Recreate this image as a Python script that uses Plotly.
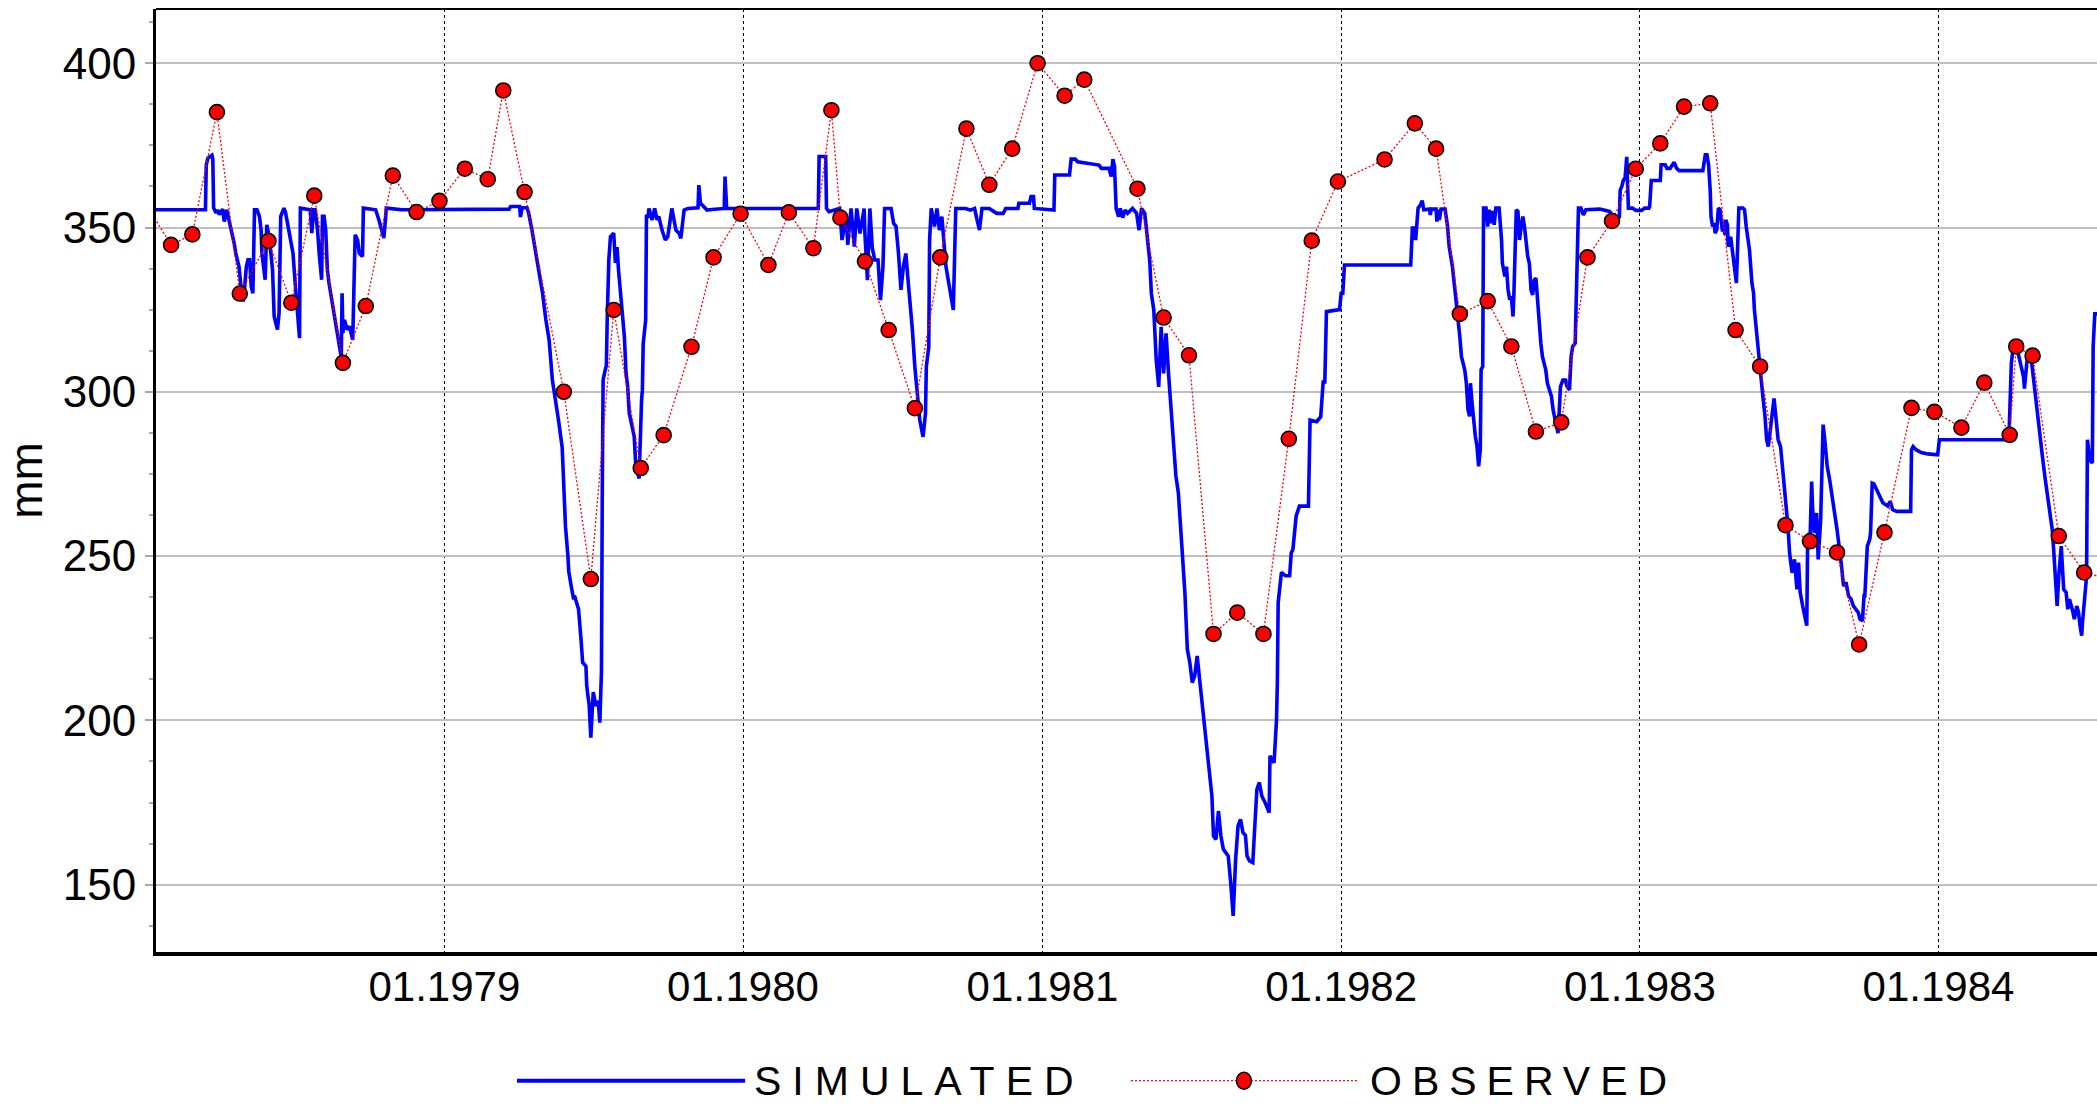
import pandas as pd
import plotly.graph_objects as go

# Simulated storage, one vertex per change of slope (day number counted from SIM_START)
SIM_START = "1978-01-01"
SIM_DAY = [
    0, 73, 74, 76, 81, 82, 83, 86, 88, 90, 94, 96, 99, 101, 104, 108, 110, 114, 116, 119,
    121, 123, 125, 127, 129, 131, 133, 136, 139, 141, 142, 146, 148, 151, 155, 157, 161, 163, 165, 169,
    171, 175, 180, 183, 186, 188, 189, 201, 203, 205, 207, 210, 212, 215, 216, 218, 220, 222, 224, 228,
    232, 236, 239, 240, 241, 243, 246, 249, 253, 256, 259, 261, 265, 266, 281, 285, 290, 291, 293, 294,
    313, 444, 446, 457, 458, 460, 466, 468, 472, 477, 481, 485, 489, 493, 497, 501, 505, 509, 512, 513,
    516, 517, 520, 523, 524, 529, 532, 534, 538, 539, 542, 544, 546, 547, 550, 553, 555, 557, 558, 559,
    561, 563, 564, 566, 568, 570, 572, 574, 576, 578, 581, 583, 585, 587, 589, 591, 593, 595, 597, 599,
    603, 606, 607, 608, 611, 612, 614, 615, 619, 622, 625, 627, 631, 635, 638, 643, 648, 652, 654, 658,
    663, 675, 676, 678, 686, 692, 707, 708, 710, 822, 823, 831, 832, 835, 848, 851, 856, 858, 862, 866,
    869, 873, 878, 879, 882, 885, 888, 891, 895, 898, 901, 903, 911, 914, 917, 920, 923, 926, 929, 932,
    935, 937, 940, 943, 946, 950, 953, 954, 957, 958, 960, 964, 967, 970, 973, 978, 983, 987, 990, 1002,
    1008, 1013, 1016, 1019, 1022, 1031, 1040, 1048, 1051, 1066, 1067, 1080, 1082, 1085, 1086, 1110, 1111, 1129, 1131, 1136,
    1139, 1151, 1165, 1168, 1177, 1180, 1182, 1184, 1186, 1189, 1191, 1194, 1197, 1200, 1206, 1211, 1214, 1217, 1221, 1227,
    1229, 1232, 1235, 1238, 1241, 1244, 1247, 1250, 1253, 1256, 1259, 1262, 1265, 1268, 1270, 1273, 1276, 1279, 1282, 1285,
    1288, 1291, 1294, 1297, 1300, 1303, 1305, 1308, 1311, 1314, 1317, 1323, 1326, 1329, 1332, 1335, 1338, 1341, 1344, 1346,
    1349, 1353, 1355, 1358, 1361, 1364, 1368, 1373, 1374, 1379, 1382, 1383, 1384, 1388, 1393, 1398, 1400, 1402, 1406, 1410,
    1421, 1423, 1431, 1436, 1439, 1441, 1443, 1459, 1461, 1463, 1465, 1546, 1548, 1550, 1552, 1553, 1555, 1558, 1560, 1562,
    1569, 1570, 1571, 1577, 1578, 1580, 1581, 1583, 1588, 1591, 1593, 1597, 1601, 1603, 1606, 1608, 1612, 1614, 1616, 1618,
    1619, 1621, 1623, 1625, 1627, 1629, 1631, 1632, 1634, 1635, 1638, 1640, 1642, 1644, 1646, 1648, 1650, 1654, 1657, 1658,
    1661, 1663, 1665, 1667, 1669, 1671, 1672, 1673, 1675, 1677, 1679, 1681, 1683, 1685, 1687, 1689, 1691, 1693, 1695, 1697,
    1699, 1700, 1702, 1703, 1705, 1707, 1709, 1711, 1713, 1715, 1718, 1720, 1722, 1724, 1726, 1728, 1729, 1732, 1735, 1737,
    1740, 1742, 1744, 1747, 1749, 1751, 1754, 1757, 1760, 1777, 1789, 1793, 1796, 1801, 1802, 1804, 1806, 1808, 1810, 1811,
    1812, 1817, 1821, 1828, 1832, 1837, 1838, 1840, 1851, 1852, 1857, 1859, 1863, 1865, 1868, 1871, 1874, 1903, 1904, 1906,
    1908, 1910, 1912, 1913, 1915, 1917, 1918, 1920, 1922, 1924, 1927, 1928, 1930, 1931, 1933, 1934, 1937, 1939, 1941, 1944,
    1945, 1947, 1952, 1954, 1956, 1960, 1963, 1965, 1966, 1969, 1971, 1973, 1974, 1976, 1979, 1981, 1983, 1986, 1990, 1992,
    1995, 1998, 2001, 2004, 2007, 2009, 2012, 2015, 2018, 2020, 2022, 2025, 2028, 2030, 2031, 2033, 2034, 2036, 2037, 2039,
    2042, 2044, 2047, 2049, 2050, 2052, 2055, 2058, 2061, 2064, 2067, 2069, 2072, 2075, 2078, 2081, 2084, 2087, 2090, 2093,
    2095, 2098, 2100, 2101, 2104, 2107, 2108, 2110, 2112, 2117, 2123, 2129, 2132, 2135, 2140, 2157, 2158, 2160, 2164, 2170,
    2178, 2190, 2192, 2277, 2279, 2280, 2283, 2287, 2289, 2292, 2295, 2296, 2299, 2300, 2305, 2308, 2311, 2315, 2318, 2321,
    2324, 2327, 2330, 2332, 2335, 2336, 2338, 2341, 2344, 2347, 2349, 2351, 2355, 2357, 2360, 2362, 2364, 2366, 2367, 2370,
    2372, 2373, 2376, 2379, 2380, 2382, 2387,
]
SIM_MM = [
    355.4, 355.4, 369.0, 371.1, 372.0, 371.0, 356.0, 354.4, 355.4, 353.9, 355.6, 351.8, 355.4, 353.4, 350.3, 345.3, 342.2, 338.1, 333.1, 327.5,
    332.0, 338.1, 340.2, 340.2, 332.0, 330.0, 355.4, 355.4, 353.4, 349.3, 342.2, 334.1, 350.8, 347.2, 337.1, 322.9, 318.9, 323.9, 353.4, 355.9,
    354.4, 349.3, 342.2, 332.0, 321.9, 316.3, 355.9, 355.4, 348.3, 355.4, 355.4, 349.3, 342.2, 334.1, 353.4, 353.4, 349.3, 337.1, 333.1, 327.0,
    319.9, 313.8, 310.5, 330.0, 317.9, 321.9, 318.9, 319.9, 315.8, 347.8, 346.2, 342.2, 341.2, 355.9, 355.4, 352.3, 347.8, 346.8, 352.3, 355.9,
    355.4, 355.6, 356.4, 356.4, 353.2, 356.0, 356.0, 354.4, 349.3, 342.2, 337.1, 330.0, 322.0, 315.8, 303.6, 296.0, 290.5, 283.0, 267.2, 259.1,
    250.0, 245.4, 240.9, 236.8, 238.0, 233.8, 224.7, 217.6, 216.5, 210.5, 204.4, 194.7, 204.4, 208.6, 204.4, 205.9, 199.3, 215.0, 270.0, 303.6,
    306.0, 308.0, 321.9, 340.2, 347.2, 347.8, 348.3, 339.2, 344.0, 336.6, 327.0, 321.9, 316.8, 305.7, 301.6, 293.5, 291.5, 288.4, 286.4, 277.2,
    273.6, 297.5, 300.5, 314.7, 321.8, 353.4, 353.4, 355.8, 352.3, 355.8, 352.3, 353.4, 349.2, 346.2, 347.2, 355.8, 349.2, 348.2, 346.7, 355.3,
    355.8, 356.0, 362.9, 357.4, 355.3, 355.5, 355.8, 365.5, 355.8, 355.8, 371.6, 371.6, 355.8, 354.8, 355.8, 346.2, 354.0, 344.7, 355.8, 344.2,
    355.8, 348.2, 355.8, 348.0, 334.0, 355.8, 343.7, 340.1, 340.1, 327.9, 338.1, 355.8, 355.8, 351.3, 350.3, 342.1, 331.0, 338.1, 342.1, 333.0,
    325.9, 318.8, 307.6, 299.5, 291.4, 286.3, 293.4, 307.6, 313.7, 346.2, 355.8, 350.3, 355.8, 349.2, 353.3, 338.1, 330.0, 324.9, 355.8, 355.8,
    355.3, 355.8, 352.3, 349.2, 355.8, 355.8, 354.3, 354.3, 355.8, 355.8, 357.4, 357.4, 359.4, 359.4, 355.8, 355.3, 366.0, 366.0, 370.8, 370.8,
    370.0, 369.5, 369.0, 368.0, 368.0, 365.5, 370.8, 368.5, 355.8, 353.3, 355.8, 353.0, 355.3, 354.3, 355.8, 354.3, 349.2, 355.8, 354.3, 340.1,
    330.0, 324.9, 309.6, 301.5, 319.8, 305.6, 317.8, 305.6, 295.4, 282.5, 274.4, 269.3, 259.1, 249.0, 238.9, 221.6, 217.6, 211.5, 213.5, 219.6,
    211.5, 205.4, 198.3, 191.2, 186.1, 177.0, 164.8, 163.8, 172.4, 164.8, 160.8, 158.7, 150.6, 140.5, 157.7, 167.9, 169.9, 165.8, 165.0, 158.7,
    157.2, 156.7, 165.8, 179.0, 181.1, 177.0, 175.0, 171.9, 189.2, 187.1, 200.3, 211.5, 235.8, 245.0, 244.0, 244.0, 251.0, 252.0, 262.2, 265.2,
    265.2, 291.4, 290.9, 292.4, 303.0, 303.0, 324.4, 325.0, 330.0, 330.0, 338.6, 338.6, 349.8, 349.8, 346.2, 349.8, 355.9, 356.9, 358.2, 355.4,
    355.6, 353.8, 355.6, 355.6, 351.8, 355.4, 352.3, 355.6, 355.6, 350.3, 344.2, 338.1, 329.0, 325.0, 316.8, 310.7, 306.7, 302.6, 294.5, 292.5,
    302.6, 296.5, 290.5, 286.4, 283.4, 277.3, 282.3, 306.7, 307.7, 355.9, 355.9, 350.3, 355.4, 351.3, 355.0, 350.8, 355.9, 355.9, 346.2, 339.2,
    335.1, 338.1, 331.0, 328.0, 329.0, 322.9, 329.0, 341.2, 355.4, 354.9, 346.2, 350.3, 353.3, 350.3, 345.2, 341.2, 339.1, 331.0, 329.5, 334.0,
    334.6, 331.0, 322.9, 319.9, 314.8, 310.7, 308.7, 306.7, 302.6, 300.6, 298.6, 294.5, 292.5, 290.5, 287.4, 296.5, 301.6, 303.6, 303.6, 301.6,
    300.6, 310.7, 313.8, 314.8, 331.0, 355.9, 355.9, 353.8, 355.4, 355.6, 354.9, 353.8, 352.8, 353.3, 361.4, 362.5, 364.5, 365.0, 371.5, 363.5,
    355.9, 355.9, 355.2, 355.2, 355.9, 355.9, 356.4, 364.3, 364.3, 369.1, 369.1, 368.0, 368.0, 368.8, 369.8, 368.0, 367.3, 367.3, 369.6, 372.1,
    372.1, 369.1, 361.4, 353.3, 350.3, 351.3, 348.3, 349.3, 355.9, 355.4, 348.8, 351.8, 347.8, 352.3, 350.8, 344.2, 347.2, 343.2, 337.1, 333.1,
    340.2, 355.9, 355.9, 355.4, 350.3, 343.2, 333.1, 330.0, 325.0, 316.8, 311.8, 307.7, 302.6, 299.5, 292.4, 285.4, 283.3, 289.4, 298.0, 293.0,
    285.4, 283.3, 275.3, 265.2, 259.1, 251.0, 244.9, 249.0, 239.9, 248.0, 238.9, 234.8, 230.8, 228.8, 253.0, 257.1, 255.0, 272.7, 265.2, 257.1,
    263.1, 249.0, 261.1, 289.4, 290.0, 285.4, 277.3, 273.2, 267.2, 263.1, 258.1, 253.0, 248.0, 240.9, 242.0, 237.9, 237.0, 234.8, 234.0, 232.8,
    230.8, 230.3, 237.9, 237.9, 253.0, 255.1, 257.1, 272.2, 272.0, 269.2, 266.2, 265.2, 266.7, 264.1, 263.6, 263.6, 282.3, 283.3, 282.3, 281.5,
    281.1, 280.8, 285.4, 285.4, 297.5, 308.6, 315.2, 313.6, 311.0, 308.1, 304.5, 301.0, 309.6, 311.6, 308.6, 301.5, 294.4, 287.4, 280.3, 274.2,
    268.2, 263.1, 258.1, 251.0, 240.9, 234.8, 243.9, 253.0, 239.9, 238.9, 233.8, 236.9, 233.3, 230.8, 234.8, 233.0, 228.8, 225.8, 229.8, 236.9,
    243.9, 285.4, 279.3, 278.3, 313.6, 323.7, 323.7,
]

# Observed storage, roughly monthly readings
OBS_DATE = [
    "1977-12-30", "1978-02-01", "1978-02-27", "1978-03-29", "1978-04-26", "1978-05-31", "1978-06-28",
    "1978-07-26", "1978-08-30", "1978-09-27", "1978-10-30", "1978-11-28", "1978-12-26", "1979-01-26",
    "1979-02-23", "1979-03-14", "1979-04-09", "1979-05-27", "1979-06-29", "1979-07-27", "1979-08-29",
    "1979-09-26", "1979-10-30", "1979-11-26", "1979-12-29", "1980-02-01", "1980-02-26", "1980-03-27",
    "1980-04-18", "1980-04-29", "1980-05-29", "1980-06-27", "1980-07-29", "1980-08-29", "1980-09-30",
    "1980-10-28", "1980-11-25", "1980-12-26", "1981-01-28", "1981-02-21", "1981-04-27", "1981-05-29",
    "1981-06-29", "1981-07-29", "1981-08-27", "1981-09-28", "1981-10-29", "1981-11-26", "1981-12-28",
    "1982-02-23", "1982-04-01", "1982-04-27", "1982-05-26", "1982-06-29", "1982-07-28", "1982-08-27",
    "1982-09-27", "1982-10-29", "1982-11-28", "1982-12-27", "1983-01-26", "1983-02-24", "1983-03-28",
    "1983-04-28", "1983-05-28", "1983-06-28", "1983-07-28", "1983-08-30", "1983-09-26", "1983-10-27",
    "1983-11-29", "1983-12-27", "1984-01-29", "1984-02-26", "1984-03-28", "1984-04-05", "1984-04-25",
    "1984-05-27", "1984-06-27", "1984-07-27",
]
OBS_MM = [
    358.0, 344.7, 347.9, 385.1, 329.9, 345.9, 327.1,
    359.7, 308.8, 326.1, 365.8, 354.7, 358.1, 367.9,
    364.7, 391.7, 360.8, 300.0, 243.0, 324.9, 276.8,
    286.8, 313.7, 340.9, 354.2, 338.6, 354.6, 343.7,
    385.7, 353.0, 339.7, 318.8, 295.0, 340.9, 380.1,
    363.0, 374.0, 400.0, 390.1, 395.0, 361.8, 322.6,
    311.1, 226.3, 232.8, 226.3, 285.7, 346.0, 364.0,
    370.7, 381.7, 374.0, 323.7, 327.6, 313.8, 287.9,
    290.7, 340.9, 352.0, 367.9, 375.6, 386.8, 387.8,
    318.8, 307.7, 259.4, 254.5, 251.1, 223.1, 257.2,
    295.1, 293.9, 289.1, 302.8, 286.9, 313.8, 311.0,
    256.1, 245.0, 243.0,
]

SERIES_NAMES = ["SIMULATED", "OBSERVED"]
Y_TICKS = [150, 200, 250, 300, 350, 400]

FONT = "Liberation Sans, Arial, sans-serif"
BLUE = "#0000FF"
RED = "#FF0000"

sim_dates = pd.Timestamp(SIM_START) + pd.to_timedelta(SIM_DAY, unit="D")
obs_dates = pd.to_datetime(OBS_DATE)

fig = go.Figure()
fig.add_trace(go.Scatter(
    x=sim_dates, y=SIM_MM, mode="lines", name=SERIES_NAMES[0],
    line=dict(color=BLUE, width=3.6), showlegend=False,
))
fig.add_trace(go.Scatter(
    x=obs_dates, y=OBS_MM, mode="lines+markers", name=SERIES_NAMES[1],
    line=dict(color=RED, width=1.3, dash="2px,2px"),
    marker=dict(size=15, color=RED, line=dict(color="black", width=1.6)),
    showlegend=False,
))

# legend drawn below the plot area: long line samples and spaced capitals
LEG_Y = -0.1365
shapes = [
    dict(type="line", xref="paper", yref="paper", x0=0, x1=1, y0=1, y1=1,
         line=dict(color="black", width=2)),
    dict(type="line", xref="paper", yref="paper", x0=0.1860, x1=0.3035, y0=LEG_Y, y1=LEG_Y,
         line=dict(color=BLUE, width=4)),
    dict(type="line", xref="paper", yref="paper", x0=0.5023, x1=0.6188, y0=LEG_Y, y1=LEG_Y,
         line=dict(color=RED, width=1.3, dash="2px,2px")),
    dict(type="circle", xref="paper", yref="paper", xsizemode="pixel", ysizemode="pixel",
         xanchor=0.5605, yanchor=LEG_Y, x0=-7.5, x1=7.5, y0=-8.5, y1=8.5,
         fillcolor=RED, line=dict(color="black", width=1.5)),
]
legend_font = dict(family=FONT, size=41, color="black")
annotations = [
    dict(text=f'<span style="letter-spacing:11px">{SERIES_NAMES[0]}</span>',
         xref="paper", yref="paper", x=0.3071, y=LEG_Y, xanchor="left", yanchor="middle",
         showarrow=False, font=legend_font),
    dict(text=f'<span style="letter-spacing:10px">{SERIES_NAMES[1]}</span>',
         xref="paper", yref="paper", x=0.6244, y=LEG_Y, xanchor="left", yanchor="middle",
         showarrow=False, font=legend_font),
]

fig.update_layout(
    width=2097, height=1104, autosize=False,
    margin=dict(l=156, r=0, t=9, b=152),
    paper_bgcolor="white", plot_bgcolor="white",
    font=dict(family=FONT, color="black"),
    shapes=shapes, annotations=annotations,
    xaxis=dict(
        type="date", range=["1978-01-13 14:00", "1984-07-12 17:00"],
        tick0="1979-01-01", dtick="M12", tickformat="%m.%Y",
        showgrid=True, gridcolor="black", gridwidth=1, griddash="dot",
        showline=True, linecolor="black", linewidth=4,
        ticks="", zeroline=False, automargin=False,
        ticklabelstandoff=-5,
        tickfont=dict(family=FONT, size=42, color="black"),
    ),
    yaxis=dict(
        range=[129.5, 416.5], tickvals=Y_TICKS,
        showgrid=True, gridcolor="#C0C0C0", gridwidth=2,
        showline=True, linecolor="black", linewidth=3,
        ticks="outside", ticklen=8, tickwidth=2, tickcolor="#A8A8A8",
        minor=dict(tick0=0, dtick=12.5, ticks="outside", ticklen=4, tickwidth=2,
                   tickcolor="#A8A8A8", showgrid=False),
        zeroline=False, automargin=False,
        tickfont=dict(family=FONT, size=44, color="black"),
        title=dict(text="mm", font=dict(family=FONT, size=46, color="black"), standoff=32),
    ),
)

fig.write_html("out.html")
